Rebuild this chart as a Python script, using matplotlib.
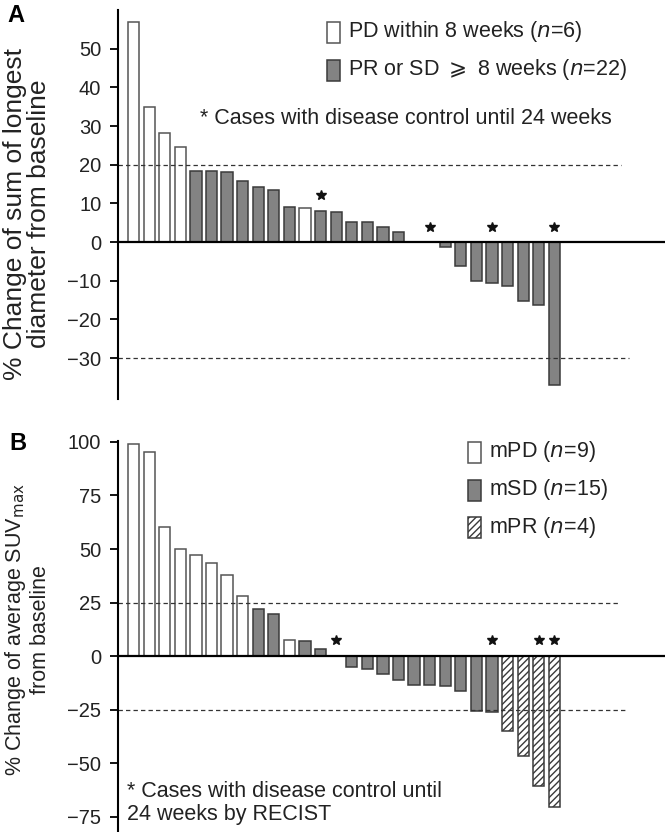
import numpy as np
import matplotlib.pyplot as plt
from matplotlib.patches import Rectangle

plt.rcParams['font.family'] = ['Liberation Sans', 'DejaVu Sans']
plt.rcParams['hatch.linewidth'] = 1.0

# Panel A: % change of sum of longest diameter (RECIST)
recist_change = [56.8, 34.9, 28.2, 24.5, 18.4, 18.4, 18.1, 15.8, 14.2, 13.4,
                 9.1, 8.7, 8.1, 7.8, 5.3, 5.3, 3.8, 2.7, 0.0, 0.0,
                 -1.3, -6.3, -10.2, -10.6, -11.4, -15.3, -16.4, -36.9]
recist_group = ['PD', 'PD', 'PD', 'PD', 'SD', 'SD', 'SD', 'SD', 'SD', 'SD',
                'SD', 'PD', 'SD', 'SD', 'SD', 'SD', 'SD', 'SD', 'PD', 'SD',
                'SD', 'SD', 'SD', 'SD', 'SD', 'SD', 'SD', 'SD']
recist_stars = [12, 19, 23, 27]

# Panel B: % change of average SUVmax
suv_change = [99.1, 95.5, 60.5, 50.1, 47.3, 43.3, 38.0, 27.9, 22.0, 19.8,
              7.7, 6.9, 3.4, 0.0, -5.0, -6.0, -8.3, -11.3, -13.3, -13.6,
              -14.1, -16.4, -25.7, -26.0, -34.7, -46.7, -60.7, -70.3]
suv_group = ['mPD'] * 8 + ['mSD', 'mSD', 'mPD', 'mSD', 'mSD', 'mSD'] + ['mSD'] * 10 + ['mPR'] * 4
suv_stars = [13, 23, 26, 27]

W, H = 667, 832
GRAY = '#838383'
EDGE = '#3a3a3a'
styles = {
    'PD': dict(facecolor='white', edgecolor='#555555', hatch=None),
    'SD': dict(facecolor=GRAY, edgecolor=EDGE, hatch=None),
    'mPD': dict(facecolor='white', edgecolor='#555555', hatch=None),
    'mSD': dict(facecolor=GRAY, edgecolor=EDGE, hatch=None),
    'mPR': dict(facecolor='white', edgecolor=EDGE, hatch='/////'),
}


def fx(x):
    return x / W


def fy(y):
    return 1 - y / H


fig = plt.figure(figsize=(W / 100, H / 100), dpi=100)
axA = fig.add_axes([fx(118), fy(399), (665 - 118) / W, (399 - 10) / H])
axB = fig.add_axes([fx(118), 0, (665 - 118) / W, (832 - 441) / H])


def draw_panel(ax, values, groups, stars, ylim, ticks, dash_levels, dash_ends, star_off):
    x = np.arange(len(values))
    for xi, v, g in zip(x, values, groups):
        st = styles[g]
        ax.bar(xi, v, width=0.72, facecolor=st['facecolor'], edgecolor=st['edgecolor'],
               hatch=st['hatch'], linewidth=1.1, zorder=3)
    sy = [max(values[i], 0) + star_off for i in stars]
    ax.plot(stars, sy, linestyle='none', marker='*', markersize=7.5, color='#111111', zorder=4)
    ax.axhline(0, color='black', lw=1.6, zorder=5)
    for lev, end in zip(dash_levels, dash_ends):
        ax.hlines(lev, -1.0, end, colors='#333333', linestyles=(0, (3.5, 2.5)), lw=0.9, zorder=6)
    ax.set_xlim(-1.0, 34.1)
    ax.set_ylim(*ylim)
    ax.set_yticks(ticks)
    ax.set_xticks([])
    for s in ['top', 'right', 'bottom']:
        ax.spines[s].set_visible(False)
    ax.spines['left'].set_linewidth(1.5)
    ax.spines['left'].set_zorder(7)
    ax.tick_params(axis='y', direction='out', length=6, width=1.3, pad=6,
                   labelsize=14.5, labelcolor='#222222')


draw_panel(axA, recist_change, recist_group, recist_stars, (-40.6, 60),
           [-30, -20, -10, 0, 10, 20, 30, 40, 50], [20, -30], [31.3, 31.8], 4.0)
draw_panel(axB, suv_change, suv_group, suv_stars, (-82, 100.4),
           [-75, -50, -25, 0, 25, 50, 75, 100], [25, -25], [31.1, 31.7], 7.5)

# panel letters and y labels
fig.text(fx(16), fy(15), 'A', fontsize=17, fontweight='bold', ha='center', va='center')
fig.text(fx(18), fy(444), 'B', fontsize=17, fontweight='bold', ha='center', va='center')
fig.text(fx(27), fy(214), '% Change of sum of longest\ndiameter from baseline', rotation=90,
         ha='center', va='center', fontsize=19, linespacing=0.95, color='#222222')
fig.text(fx(27), fy(630), '% Change of average SUV$_{\\mathrm{max}}$\nfrom baseline', rotation=90,
         ha='center', va='center', fontsize=15.5, linespacing=1.1, color='#222222')


# legends
def legend_row(x, y, label, key):
    st = styles[key]
    fig.patches.append(Rectangle((fx(x), fy(y + 10.5)), 13 / W, 21 / H, transform=fig.transFigure,
                                 facecolor=st['facecolor'], edgecolor=st['edgecolor'],
                                 hatch=st['hatch'], linewidth=1.1))
    fig.text(fx(x + 21), fy(y), label, fontsize=15.5, ha='left', va='center', color='#222222')


legend_row(327, 32, 'PD within 8 weeks ($n$=6)', 'PD')
legend_row(327, 70, 'PR or SD $\\geqslant$ 8 weeks ($n$=22)', 'SD')
fig.text(fx(200), fy(119), '* Cases with disease control until 24 weeks', fontsize=15.5,
         ha='left', va='center', color='#222222')

legend_row(468, 452, 'mPD ($n$=9)', 'mPD')
legend_row(468, 490, 'mSD ($n$=15)', 'mSD')
legend_row(468, 527, 'mPR ($n$=4)', 'mPR')
fig.text(fx(127), fy(803), '* Cases with disease control until\n24 weeks by RECIST', fontsize=15.5,
         ha='left', va='center', linespacing=1.1, color='#222222')

fig.savefig('out.png', dpi=100)
